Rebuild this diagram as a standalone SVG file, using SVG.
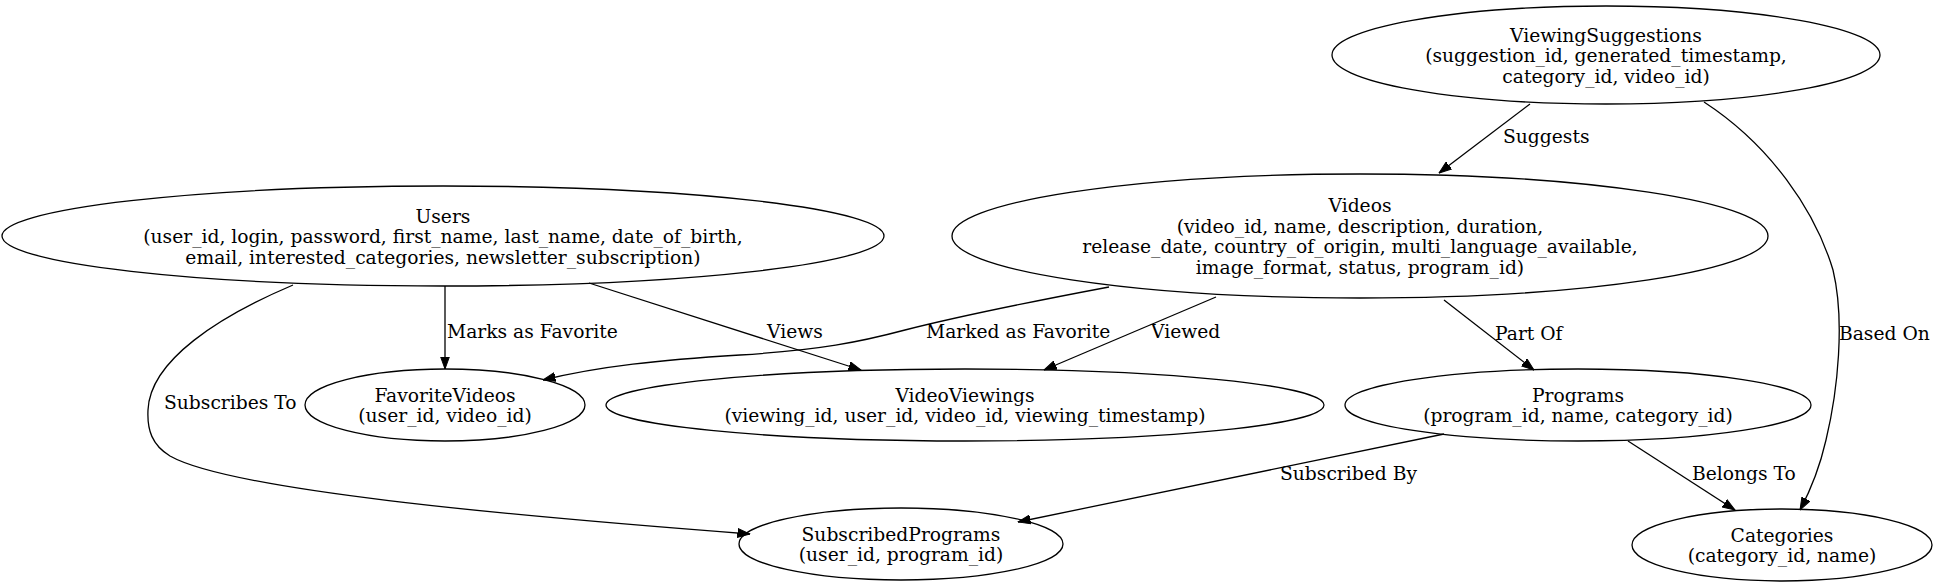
<svg xmlns="http://www.w3.org/2000/svg" width="1936" height="586" viewBox="0 0 1936 586">
<style>
  .node ellipse { fill: none; stroke: #000; stroke-width: 1.3; }
  text { font-family: "DejaVu Serif", "Liberation Serif", serif; font-size: 18.7px; fill: #000; }
  .node text { text-anchor: middle; }
  .edges path { fill: none; stroke: #000; stroke-width: 1.3; marker-end: url(#arrow); }
</style>
<defs>
  <marker id="arrow" markerUnits="userSpaceOnUse" markerWidth="13" markerHeight="10" viewBox="0 0 13 10" refX="12.5" refY="5" orient="auto">
    <path d="M0,0.5 L12.5,5 L0,9.5 z" fill="#000" stroke="#000" stroke-width="1"/>
  </marker>
</defs>
<rect width="1936" height="586" fill="#fff"/>

<g id="ViewingSuggestions" class="node">
  <ellipse cx="1606" cy="55" rx="274" ry="49"/>
  <text x="1606" y="41.5">ViewingSuggestions</text>
  <text x="1606" y="62">(suggestion_id, generated_timestamp,</text>
  <text x="1606" y="82.5">category_id, video_id)</text>
</g>
<g id="Users" class="node">
  <ellipse cx="443" cy="236" rx="441" ry="50"/>
  <text x="443" y="222.5">Users</text>
  <text x="443" y="243">(user_id, login, password, first_name, last_name, date_of_birth,</text>
  <text x="443" y="263.5">email, interested_categories, newsletter_subscription)</text>
</g>
<g id="Videos" class="node">
  <ellipse cx="1360" cy="236" rx="408" ry="62"/>
  <text x="1360" y="212">Videos</text>
  <text x="1360" y="232.5">(video_id, name, description, duration,</text>
  <text x="1360" y="253">release_date, country_of_origin, multi_language_available,</text>
  <text x="1360" y="273.5">image_format, status, program_id)</text>
</g>
<g id="FavoriteVideos" class="node">
  <ellipse cx="445" cy="405" rx="140" ry="36"/>
  <text x="445" y="401.5">FavoriteVideos</text>
  <text x="445" y="422">(user_id, video_id)</text>
</g>
<g id="VideoViewings" class="node">
  <ellipse cx="965" cy="405" rx="359" ry="36"/>
  <text x="965" y="401.5">VideoViewings</text>
  <text x="965" y="422">(viewing_id, user_id, video_id, viewing_timestamp)</text>
</g>
<g id="Programs" class="node">
  <ellipse cx="1578" cy="405" rx="233" ry="36"/>
  <text x="1578" y="401.5">Programs</text>
  <text x="1578" y="422">(program_id, name, category_id)</text>
</g>
<g id="SubscribedPrograms" class="node">
  <ellipse cx="901" cy="544" rx="162" ry="36"/>
  <text x="901" y="540.5">SubscribedPrograms</text>
  <text x="901" y="561">(user_id, program_id)</text>
</g>
<g id="Categories" class="node">
  <ellipse cx="1782" cy="545" rx="150" ry="36"/>
  <text x="1782" y="541.5">Categories</text>
  <text x="1782" y="562">(category_id, name)</text>
</g>

<g id="edges" class="edges">
  <path d="M1530,104 L1439,173"/>
  <path d="M1704,102 C1770,145 1815,210 1833,270 C1845,320 1838,390 1826,440 C1818,475 1808,495 1800,510"/>
  <path d="M445,286 L445,369"/>
  <path d="M589,283 L861,370"/>
  <path d="M1109,287 C1040,300 960,316 905,330 C860,342 820,350 740,355 C660,360 600,366 543,380"/>
  <path d="M1216,297 L1044,370"/>
  <path d="M1444,300 L1534,370"/>
  <path d="M293,285 C220,316 150,360 148,410 C147,430 152,445 170,456 C230,490 500,515 750,534"/>
  <path d="M1444,434 L1018,522"/>
  <path d="M1628,441 L1735,510"/>
</g>
<g id="edge-labels">
  <text x="1503" y="143">Suggests</text>
  <text x="1839" y="340">Based On</text>
  <text x="447" y="338">Marks as Favorite</text>
  <text x="767" y="338">Views</text>
  <text x="926" y="338">Marked as Favorite</text>
  <text x="1151" y="338">Viewed</text>
  <text x="1495" y="340">Part Of</text>
  <text x="164" y="409">Subscribes To</text>
  <text x="1280" y="480">Subscribed By</text>
  <text x="1692" y="480">Belongs To</text>
</g>
</svg>
